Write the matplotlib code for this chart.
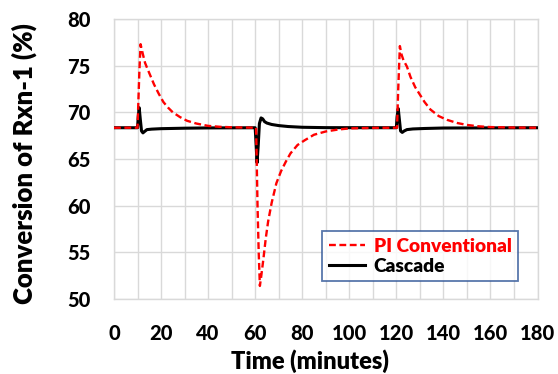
import matplotlib
matplotlib.use("Agg")
import matplotlib.pyplot as plt

plt.rcParams['font.family'] = ['Lato', 'DejaVu Sans']
plt.rcParams['font.weight'] = 'heavy'  # Lato 800, close to the bold office face

# PI conventional response (time in minutes, conversion in %)
t_pi = [0, 10, 10.4, 10.8, 11.3, 12.2, 13.2, 14, 15.5, 17, 19, 21, 23, 25, 28, 31,
        35, 40, 45, 50, 60, 60.4, 61, 61.5, 62, 62.5, 63, 63.5, 64.5, 65.5, 67, 69,
        71, 73, 75, 78, 81, 85, 90, 95, 100, 110, 120, 120.3, 120.8, 121.5, 122.2,
        123, 124.5, 126, 128, 130, 132, 134.5, 138, 141.5, 146, 150, 155, 160, 170, 180]
conv_pi = [68.35, 68.35, 71.5, 74.5, 77.3, 76.3, 75.3, 74.8, 73.9, 73.0, 72.0, 71.1,
           70.5, 70.0, 69.5, 69.1, 68.8, 68.55, 68.45, 68.4, 68.35, 68.35, 60.0, 55.0,
           51.4, 52.3, 53.3, 54.3, 56.5, 58.3, 60.3, 62.4, 63.7, 64.7, 65.6, 66.5, 67.0,
           67.6, 67.95, 68.15, 68.28, 68.33, 68.35, 68.35, 72.5, 77.1, 76.2, 75.6, 74.9,
           73.8, 72.7, 71.9, 71.1, 70.3, 69.6, 69.2, 68.85, 68.65, 68.5, 68.42, 68.37, 68.35]

# Cascade response
t_cas = [0, 10, 10.3, 10.7, 11.2, 11.7, 12.3, 13, 14, 16, 20, 30, 40, 60, 60.3, 60.8,
         61.3, 61.8, 62.5, 63.2, 64, 65, 67, 70, 74, 80, 90, 120, 120.3, 120.8, 121.3,
         121.8, 122.5, 123.3, 124.5, 127, 132, 140, 180]
conv_cas = [68.35, 68.35, 69.5, 70.5, 69.2, 68.0, 67.8, 67.95, 68.15, 68.2, 68.25, 68.3,
            68.33, 68.35, 67.0, 64.6, 66.5, 68.8, 69.4, 69.3, 69.0, 68.85, 68.7, 68.58,
            68.48, 68.4, 68.36, 68.35, 69.5, 70.4, 69.2, 68.0, 67.85, 68.0, 68.15, 68.22,
            68.27, 68.32, 68.35]

x_ticks = list(range(0, 181, 20))
y_ticks = [50, 55, 60, 65, 70, 75, 80]

GRID = "#d9d9d9"
TICK_FONT = dict(fontsize=14.5, fontweight='black')

fig = plt.figure(figsize=(5.58, 3.74), dpi=100)
ax = fig.add_axes([0.2043, 0.2005, 0.7590, 0.7487])

ax.plot(t_cas, conv_cas, color='black', lw=2.2, label='Cascade', zorder=3)
ax.plot(t_pi, conv_pi, color='#ff0000', lw=1.7, linestyle=(0, (2.9, 1.5)),
        label='PI Conventional', zorder=4)

ax.set_xlim(0, 180)
ax.set_ylim(50, 80)
ax.set_xticks(x_ticks, labels=[str(v) for v in x_ticks], **TICK_FONT)
ax.set_xticks(range(0, 181, 10), minor=True)
ax.set_yticks(y_ticks, labels=[str(v) for v in y_ticks], **TICK_FONT)
ax.grid(True, which='both', axis='x', color=GRID, lw=1.0)
ax.grid(True, which='major', axis='y', color=GRID, lw=1.0)
ax.set_axisbelow(True)
ax.tick_params(which='both', length=0)
ax.tick_params(axis='x', pad=18)
ax.tick_params(axis='y', pad=17)
for s in ax.spines.values():
    s.set_color(GRID)
    s.set_linewidth(1.0)

fig.text(310 / 558, 1 - 361 / 374, 'Time (minutes)', fontsize=17,
         ha='center', va='center')
fig.text(24 / 558, 1 - 164 / 374, 'Conversion of Rxn-1 (%)', fontsize=18.5,
         ha='center', va='center', rotation=90)

handles, labels = ax.get_legend_handles_labels()
leg = ax.legend(handles[::-1], labels[::-1], loc='upper left',
                bbox_to_anchor=(0.491, 0.243), frameon=True, fancybox=False,
                fontsize=13.8, handlelength=1.9, handletextpad=0.45,
                borderpad=0.35, labelspacing=0.15, borderaxespad=0)
leg.get_frame().set_edgecolor('#2f5597')
leg.get_frame().set_linewidth(1.3)
for txt, col in zip(leg.get_texts(), ['#ff0000', 'black']):
    txt.set_color(col)

fig.savefig('out.png', dpi=100, facecolor='white')
